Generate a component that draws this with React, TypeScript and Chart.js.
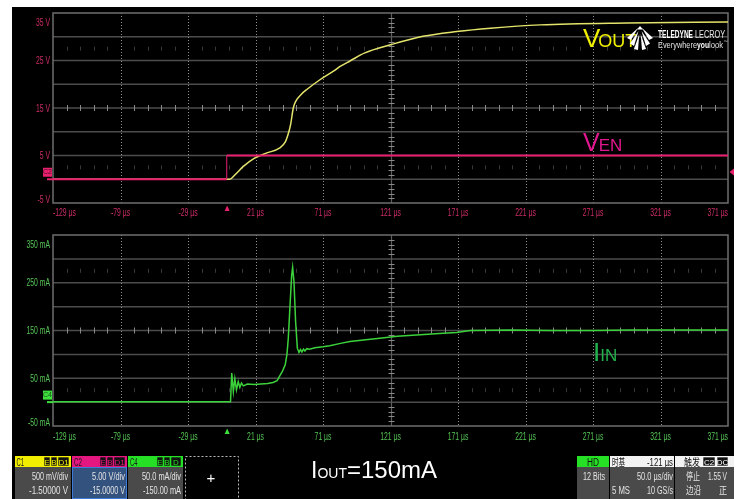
import React, { useEffect, useRef } from "react";
import { Chart, registerables } from "chart.js";

Chart.register(...registerables);

// ---------------- data ----------------
const timeTicks = [-129, -79, -29, 21, 71, 121, 171, 221, 271, 321, 371];
const timeTickLabels = ["-129 µs", "-79 µs", "-29 µs", "21 µs", "71 µs", "121 µs", "171 µs", "221 µs", "271 µs", "321 µs", "371 µs"];
const voltTicks = [35, 25, 15, 5, -5];
const voltTickLabels = ["35 V", "25 V", "15 V", "5 V", "-5 V"];
const currentTicks = [350, 250, 150, 50, -50];
const currentTickLabels = ["350 mA", "250 mA", "150 mA", "50 mA", "-50 mA"];

const triggerTime = 0;
const triggerLevel = 1.55;

const venTime = [-129, -0.3, -0.3, 371];
const venVolts = [0, 0, 5, 5];

const voutTime = [-129, 2, 6, 12, 20, 29, 39, 43, 45, 47, 49, 51, 55, 59, 69, 79, 84, 91, 102, 121, 145, 170, 195, 232, 296, 371];
const voutVolts = [0, 0, 1.0, 2.7, 4.4, 5.5, 6.6, 7.8, 9.3, 11.5, 15.0, 16.5, 17.9, 18.9, 21.0, 22.8, 23.8, 24.9, 26.6, 28.3, 30.1, 31.1, 31.8, 32.5, 32.9, 33.1];

const iinTime = [-129, 2.5, 3.4, 4.6, 5.7, 6.9, 8.2, 9.4, 10.6, 12, 15, 20, 25, 30, 34, 37, 39, 41, 43, 44.3, 45.3, 46.6, 47.8, 48.5, 49.5, 50.7, 52, 53.2, 54.3, 55.4, 56.5, 57.6, 59, 61, 65, 71, 76, 84, 91, 101, 113, 126, 143, 160, 170, 180, 210, 239, 270, 300, 340, 371];
const iinMilliamps = [1, 1, 61, 22, 49, 26, 43, 31, 40, 34, 38, 37, 38, 39, 41, 45, 55, 65, 78, 100, 134, 204, 266, 282, 252, 169, 113, 104, 110, 105, 111, 107, 112, 111, 114, 116, 118, 123, 127, 130, 134, 138, 141, 144, 146, 150, 151, 150, 150, 151, 151, 151];

// ---------------- helpers ----------------
const FONT = '"Liberation Sans", Arial, sans-serif';
const CJK = '"Noto Sans CJK SC", "Noto Sans CJK JP", sans-serif';

function pts(xs: number[], ys: number[]) {
  return xs.map((x, i) => ({ x, y: ys[i] }));
}

function squeezeText(ctx: CanvasRenderingContext2D, text: string, x: number, y: number, align: CanvasTextAlign, baseline: CanvasTextBaseline, color: string) {
  ctx.save();
  ctx.translate(x, y);
  ctx.scale(0.62, 1);
  ctx.font = `11px ${FONT}`;
  ctx.textAlign = align;
  ctx.textBaseline = baseline;
  ctx.fillStyle = color;
  ctx.fillText(text, 0, 0);
  ctx.restore();
}

type Spec = {
  yMin: number;
  yMax: number;
  yTicks: number[];
  yLabels: string[];
  labelColor: string;
  markerColor: string;
  markerText: string;
  axisHeight: number;
  xLabelOffset: number;
  showTriggerLevel: boolean;
  datasets: any[];
};

function line(ctx: CanvasRenderingContext2D, x1: number, y1: number, x2: number, y2: number) {
  ctx.beginPath();
  ctx.moveTo(x1, y1);
  ctx.lineTo(x2, y2);
  ctx.stroke();
}

function scopePlugin(spec: Spec) {
  return {
    id: "scopeDecor",
    beforeDatasetsDraw(chart: any) {
      const { ctx, chartArea: a } = chart;
      const xs = chart.scales.x;
      const ys = chart.scales.y;
      const div = (spec.yMax - spec.yMin) / 8;
      const xMin = timeTicks[0];
      const xDiv = timeTicks[1] - timeTicks[0];
      ctx.save();
      // horizontal grid
      ctx.strokeStyle = "#4c4c4c";
      ctx.lineWidth = 1.5;
      for (let i = 1; i < 8; i++) {
        const py = ys.getPixelForValue(spec.yMin + i * div);
        line(ctx, a.left, py, a.right, py);
      }
      // vertical dotted grid
      ctx.strokeStyle = "#8e8e8e";
      ctx.lineWidth = 1;
      ctx.setLineDash([1, 2]);
      timeTicks.slice(1, -1).forEach((t, i) => {
        if (i === 4) return;
        const px = Math.round(xs.getPixelForValue(t)) + 0.5;
        line(ctx, px, a.top, px, a.bottom);
      });
      ctx.setLineDash([]);
      // center vertical line
      const xc = Math.round(xs.getPixelForValue(timeTicks[5])) + 0.5;
      ctx.strokeStyle = "#5c5c5c";
      ctx.lineWidth = 1.2;
      line(ctx, xc, a.top, xc, a.bottom);
      // minor ticks on center cross
      const yc = ys.getPixelForValue(spec.yMin + 4 * div);
      ctx.strokeStyle = "#8a8a8a";
      ctx.lineWidth = 1;
      for (let k = 1; k < 50; k++) {
        if (k % 5 === 0) continue;
        const px = Math.round(xs.getPixelForValue(xMin + (k * xDiv) / 5)) + 0.5;
        line(ctx, px, yc - 3, px, yc + 3);
      }
      for (let k = 1; k < 40; k++) {
        if (k % 5 === 0) continue;
        const py = Math.round(ys.getPixelForValue(spec.yMin + (k * div) / 5)) + 0.5;
        line(ctx, xc - 3, py, xc + 3, py);
      }
      // faint tick rows
      ctx.strokeStyle = "#383838";
      [spec.yMin + 1.5 * div, spec.yMin + 6.5 * div].forEach((v) => {
        const py = ys.getPixelForValue(v);
        for (let k = 1; k < 50; k++) {
          if (k % 5 === 0) continue;
          const px = Math.round(xs.getPixelForValue(xMin + (k * xDiv) / 5)) + 0.5;
          line(ctx, px, py - 2, px, py + 2);
        }
      });
      // frame
      ctx.strokeStyle = "#6e6e6e";
      ctx.lineWidth = 1.5;
      ctx.strokeRect(a.left, a.top, a.right - a.left, a.bottom - a.top);
      ctx.restore();
    },
    afterDraw(chart: any) {
      const { ctx, chartArea: a } = chart;
      const xs = chart.scales.x;
      const ys = chart.scales.y;
      // y tick labels
      spec.yTicks.forEach((v, i) => {
        const py = ys.getPixelForValue(v);
        if (i === 0) squeezeText(ctx, spec.yLabels[i], a.left - 3, py + 4, "right", "top", spec.labelColor);
        else if (i === spec.yTicks.length - 1) squeezeText(ctx, spec.yLabels[i], a.left - 3, py - 0.5, "right", "alphabetic", spec.labelColor);
        else squeezeText(ctx, spec.yLabels[i], a.left - 3, py + 0.5, "right", "middle", spec.labelColor);
      });
      // x tick labels
      timeTicks.forEach((t, i) => {
        const px = xs.getPixelForValue(t);
        const align: CanvasTextAlign = i === 0 ? "left" : i === timeTicks.length - 1 ? "right" : "center";
        squeezeText(ctx, timeTickLabels[i], px, a.bottom + spec.xLabelOffset, align, "alphabetic", spec.labelColor);
      });
      ctx.save();
      // ground marker
      const zy = ys.getPixelForValue(0);
      ctx.strokeStyle = spec.markerColor;
      ctx.lineWidth = 2;
      line(ctx, a.left - 6, zy, a.left, zy);
      ctx.fillStyle = spec.markerColor;
      ctx.fillRect(a.left - 10, zy - 11.5, 9, 9);
      ctx.font = `7px ${FONT}`;
      ctx.textAlign = "center";
      ctx.textBaseline = "middle";
      ctx.fillStyle = "rgba(0,0,0,0.65)";
      ctx.fillText(spec.markerText, a.left - 5.5, zy - 7);
      // trigger time marker
      const tx = xs.getPixelForValue(triggerTime);
      ctx.fillStyle = spec.markerColor;
      ctx.beginPath();
      ctx.moveTo(tx, a.bottom + 2.5);
      ctx.lineTo(tx + 2.5, a.bottom + 8);
      ctx.lineTo(tx - 2.5, a.bottom + 8);
      ctx.closePath();
      ctx.fill();
      // trigger level marker
      if (spec.showTriggerLevel) {
        const ty = ys.getPixelForValue(triggerLevel);
        ctx.beginPath();
        ctx.moveTo(a.right + 1.5, ty);
        ctx.lineTo(a.right + 6, ty - 3.5);
        ctx.lineTo(a.right + 6, ty + 3.5);
        ctx.closePath();
        ctx.fill();
      }
      ctx.restore();
    },
  };
}

function makeConfig(spec: Spec): any {
  return {
    type: "line",
    data: { datasets: spec.datasets },
    options: {
      responsive: false,
      maintainAspectRatio: false,
      animation: false,
      events: [],
      layout: { padding: { top: 6, right: 6, left: 0, bottom: 0 } },
      plugins: { legend: { display: false }, tooltip: { enabled: false } },
      scales: {
        x: {
          type: "linear",
          min: timeTicks[0],
          max: timeTicks[timeTicks.length - 1],
          grid: { display: false },
          border: { display: false },
          ticks: { display: false },
          afterFit: (s: any) => {
            s.height = spec.axisHeight;
          },
        },
        y: {
          type: "linear",
          min: spec.yMin,
          max: spec.yMax,
          grid: { display: false },
          border: { display: false },
          ticks: { display: false },
          afterFit: (s: any) => {
            s.width = 41;
          },
        },
      },
    },
    plugins: [scopePlugin(spec)],
  };
}

const topSpec: Spec = {
  yMin: -5,
  yMax: 35,
  yTicks: voltTicks,
  yLabels: voltTickLabels,
  labelColor: "#cf2d66",
  markerColor: "#e8206e",
  markerText: "C2",
  axisHeight: 26,
  xLabelOffset: 13,
  showTriggerLevel: true,
  datasets: [
    {
      data: pts(venTime, venVolts),
      borderColor: "#e81f6e",
      borderWidth: 2,
      pointRadius: 0,
      tension: 0,
      order: 0,
      segment: {
        borderWidth: (c: any) => (c.p0.parsed.x === c.p1.parsed.x ? 1 : 2),
      },
    },
    {
      data: pts(voutTime, voutVolts),
      borderColor: "#e4e46c",
      borderWidth: 1.5,
      pointRadius: 0,
      cubicInterpolationMode: "monotone",
      order: 1,
    },
  ],
};

const botSpec: Spec = {
  yMin: -50,
  yMax: 350,
  yTicks: currentTicks,
  yLabels: currentTickLabels,
  labelColor: "#55c455",
  markerColor: "#3ee03e",
  markerText: "C4",
  axisHeight: 25,
  xLabelOffset: 14,
  showTriggerLevel: false,
  datasets: [
    {
      data: pts(iinTime, iinMilliamps),
      borderColor: "#3cd23c",
      borderWidth: 1.5,
      pointRadius: 0,
      tension: 0,
    },
  ],
};

function T(props: { x: number; y: number; w: number; children: any; size?: number; fill?: string; family?: string; weight?: number }) {
  const { x, y, w, children, size = 10, fill = "#e4e4e4", family = FONT, weight = 400 } = props;
  return (
    <text x={x} y={y} textLength={w} lengthAdjust="spacingAndGlyphs" fontSize={size} fill={fill} fontFamily={family} fontWeight={weight}>
      {children}
    </text>
  );
}

function Box(props: { x: number; w: number; label: string; color: string }) {
  const { x, w, label, color } = props;
  return (
    <g>
      <rect x={x} y={457} width={w} height={9} fill="#111" stroke={color} strokeWidth={0.6} />
      <text x={x + w / 2} y={464.5} textAnchor="middle" fontSize={8} fill={color} fontFamily={FONT}>
        {label}
      </text>
    </g>
  );
}

export default function App() {
  const topRef = useRef<HTMLCanvasElement>(null);
  const botRef = useRef<HTMLCanvasElement>(null);

  useEffect(() => {
    const c1 = new Chart(topRef.current as HTMLCanvasElement, makeConfig(topSpec));
    const c2 = new Chart(botRef.current as HTMLCanvasElement, makeConfig(botSpec));
    return () => {
      c1.destroy();
      c2.destroy();
    };
  }, []);

  const gray = "#4a4a4a";
  return (
    <div style={{ position: "fixed", left: 0, top: 0, width: 742, height: 499, background: "#fff", overflow: "hidden" }}>
      <div style={{ position: "absolute", left: 12, top: 7, width: 722, height: 492, background: "#000" }} />
      <canvas ref={topRef} width={722} height={222} style={{ position: "absolute", left: 12, top: 7, width: 722, height: 222, display: "block" }} />
      <canvas ref={botRef} width={722} height={222} style={{ position: "absolute", left: 12, top: 229, width: 722, height: 222, display: "block" }} />
      <svg width={742} height={499} style={{ position: "absolute", left: 0, top: 0, pointerEvents: "none" }}>
        {/* annotations */}
        <text x={583} y={47} fill="#f0f000" fontFamily={FONT} fontSize={26}>
          V<tspan fontSize={18} dx={-2}>OUT</tspan>
        </text>
        <text x={583} y={151} fill="#e0178e" fontFamily={FONT} fontSize={25}>
          V<tspan fontSize={17} dx={-1}>EN</tspan>
        </text>
        <text x={593} y={361} fill="#22b24c" fontFamily={FONT} fontSize={26}>
          I<tspan fontSize={17}>IN</tspan>
        </text>
        <text x={311} y={478} fill="#ffffff" fontFamily={FONT} fontSize={23}>
          I<tspan fontSize={14}>OUT</tspan>
          <tspan fontSize={24}>=150mA</tspan>
        </text>

        {/* logo */}
        <g fill="#ffffff">
          <polygon points="640,26 637,29.5 643,29.5" />
          <polygon points="638,28 627,38 631,40" />
          <polygon points="638.5,31 630,43.5 634,46" />
          <polygon points="639.3,34 634,49 638,50" />
          <polygon points="642,28 653,38 649,40" />
          <polygon points="641.5,31 650,43.5 646,46" />
          <polygon points="640.7,34 646,49 642,50" />
        </g>
        <T x={658} y={38} w={35} size={11} fill="#fff" weight={700}>TELEDYNE</T>
        <T x={695} y={38} w={30} size={11} fill="#e8e8e8">LECROY</T>
        <T x={658} y={48} w={39} size={9.5} fill="#e0e0e0">Everywhere</T>
        <T x={697} y={48} w={12} size={9.5} fill="#fff" weight={700}>you</T>
        <T x={709} y={48} w={14} size={9.5} fill="#e0e0e0">look</T>
        <text x={723.5} y={42.5} fontSize={4} fill="#ddd" fontFamily={FONT}>™</text>

        {/* C1 panel */}
        <rect x={15} y={456} width={56} height={11} fill="#f2ee00" />
        <T x={16.5} y={465.5} w={7.5} fill="#1a1a1a">C1</T>
        <Box x={44} w={6} label="E" color="#f2ee00" />
        <Box x={51} w={6} label="B" color="#f2ee00" />
        <Box x={58} w={11} label="D1" color="#f2ee00" />
        <rect x={15} y={467} width={56} height={32} fill={gray} />
        <T x={32} y={480} w={36}>500 mV/div</T>
        <T x={29} y={494} w={39}>-1.50000 V</T>

        {/* C2 panel */}
        <rect x={72} y={456} width={55} height={11} fill="#e3177f" />
        <T x={74} y={465.5} w={8} fill="#1a1a1a">C2</T>
        <Box x={100} w={6} label="E" color="#e3177f" />
        <Box x={107} w={6} label="B" color="#e3177f" />
        <Box x={114} w={11} label="D1" color="#e3177f" />
        <rect x={72.5} y={467.5} width={54} height={31} fill="#34527e" stroke="#3f7ad6" strokeWidth={1} />
        <T x={92} y={480} w={33}>5.00 V/div</T>
        <T x={90} y={494} w={35}>-15.0000 V</T>

        {/* C4 panel */}
        <rect x={128} y={456} width={55} height={11} fill="#25e025" />
        <T x={130} y={465.5} w={7.5} fill="#1a1a1a">C4</T>
        <Box x={157} w={6} label="E" color="#25e025" />
        <Box x={164} w={6} label="B" color="#25e025" />
        <Box x={171} w={10} label="D" color="#25e025" />
        <rect x={128} y={467} width={55} height={32} fill={gray} />
        <T x={142} y={480} w={39}>50.0 mA/div</T>
        <T x={143} y={494} w={38}>-150.00 mA</T>

        {/* add-channel box */}
        <rect x={185.5} y={456.5} width={53} height={43} fill="none" stroke="#bbbbbb" strokeWidth={1} strokeDasharray="2 2" />
        <text x={211} y={483} textAnchor="middle" fontSize={15} fill="#fff" fontFamily={FONT}>+</text>

        {/* HD panel */}
        <rect x={577} y={456} width={32} height={11} fill="#25e025" />
        <T x={587} y={465.5} w={12} fill="#111">HD</T>
        <rect x={577} y={467} width={32} height={32} fill={gray} />
        <T x={583} y={480} w={22}>12 Bits</T>

        {/* timebase panel */}
        <rect x={610} y={456} width={64} height={11} fill="#f2f2f2" />
        <T x={612} y={465.5} w={13} fill="#111" family={CJK}>时基</T>
        <T x={647} y={465.5} w={26} fill="#111">-121 µs</T>
        <rect x={610} y={467} width={64} height={32} fill={gray} />
        <T x={637} y={480} w={36}>50.0 µs/div</T>
        <T x={612} y={494} w={18}>5 MS</T>
        <T x={647} y={494} w={26}>10 GS/s</T>

        {/* trigger panel */}
        <rect x={675} y={456} width={59} height={11} fill="#f2f2f2" />
        <T x={684} y={465.5} w={16} fill="#111" family={CJK}>触发</T>
        <Box x={703} w={12} label="C2" color="#ffffff" />
        <Box x={717} w={11} label="DC" color="#ffffff" />
        <rect x={675} y={467} width={59} height={32} fill={gray} />
        <T x={686} y={480} w={14} family={CJK}>停止</T>
        <T x={708} y={480} w={19}>1.55 V</T>
        <T x={686} y={494} w={15} family={CJK}>边沿</T>
        <T x={719} y={494} w={8} family={CJK}>正</T>
      </svg>
    </div>
  );
}
